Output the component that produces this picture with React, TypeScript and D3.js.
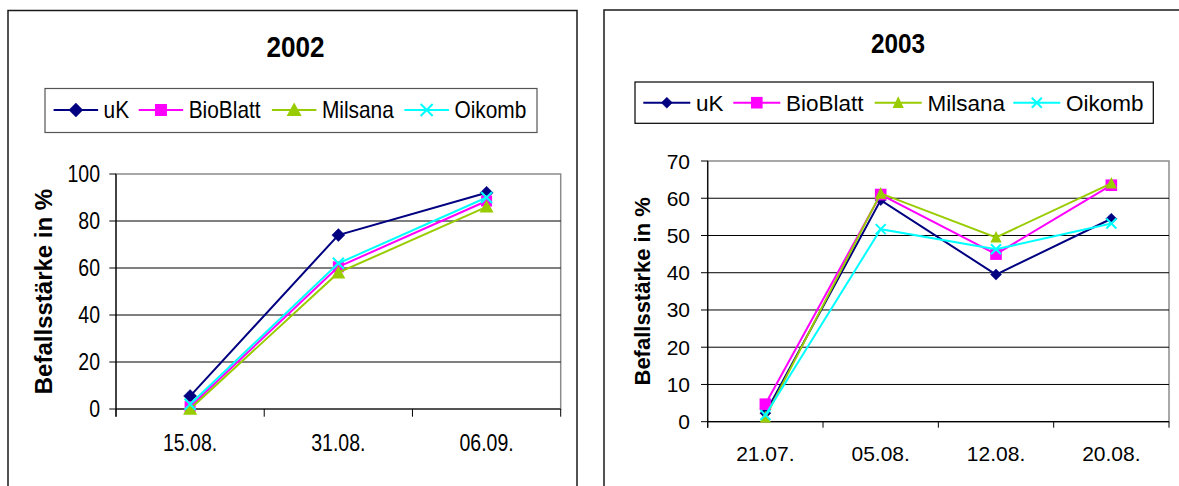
import React from "react";
import * as d3 from "d3";

// ---------- DATA ----------
const seriesNames = ["uK", "BioBlatt", "Milsana", "Oikomb"];
const seriesColors = ["#000080", "#FF00FF", "#99CC00", "#00FFFF"];

const categories2002 = ["15.08.", "31.08.", "06.09."];
const uK2002 = [5.5, 74, 92];
const bioBlatt2002 = [1, 60.5, 88.5];
const milsana2002 = [0, 58, 86];
const oikomb2002 = [2, 62, 90];
const yTicks2002 = [0, 20, 40, 60, 80, 100];

const categories2003 = ["21.07.", "05.08.", "12.08.", "20.08."];
const uK2003 = [2.3, 59.5, 39.5, 54.5];
const bioBlatt2003 = [4.7, 61, 45, 63.5];
const milsana2003 = [1.2, 61.3, 49.5, 64];
const oikomb2003 = [1.8, 51.7, 46.3, 53.2];
const yTicks2003 = [0, 10, 20, 30, 40, 50, 60, 70];

const FONT = "'Liberation Sans', Arial, Helvetica, sans-serif";

type Cfg = {
  title: string;
  categories: string[];
  series: number[][];
  yTicks: number[];
  box: [number, number, number, number];
  titleX: number; titleY: number; titleSize: number; titleSX: number;
  legendBox: [number, number, number, number];
  legendStarts: number[]; legendY: number; legendLine: number; legendTextDx: number;
  legendSize: number; legendSX: number; legendBaseDy: number; legendBorder: string;
  plot: [number, number, number, number];
  tickSize: number; tickSX: number; yLabelGap: number; xLabelY: number;
  yTickLen: number; xTickLen: number;
  axisTitleX: number; axisTitleSize: number;
  mk: { d: number; s: number; t: number; th: number; x: number };
  lmk: { d: number; s: number; t: number; th: number; x: number };
  lineW: number;
};

function Marker({ kind, cx, cy, color, m }: { kind: number; cx: number; cy: number; color: string; m: Cfg["mk"] }) {
  if (kind === 0) {
    const r = m.d;
    return <path d={`M${cx},${cy - r}L${cx + r},${cy}L${cx},${cy + r}L${cx - r},${cy}Z`} fill={color} stroke={color} strokeWidth={0.5} />;
  }
  if (kind === 1) {
    const r = m.s;
    return <rect x={cx - r} y={cy - r} width={2 * r} height={2 * r} fill={color} />;
  }
  if (kind === 2) {
    const r = m.t;
    const h = m.th;
    return <path d={`M${cx},${cy - h * 0.55}L${cx + r},${cy + h * 0.45}L${cx - r},${cy + h * 0.45}Z`} fill={color} />;
  }
  const r = m.x;
  return (
    <path d={`M${cx - r},${cy - r}L${cx + r},${cy + r}M${cx + r},${cy - r}L${cx - r},${cy + r}`} stroke={color} strokeWidth={2} fill="none" />
  );
}

function Chart({ c }: { c: Cfg }) {
  const [pl, pt, pr, pb] = c.plot;
  const x = d3.scaleBand<string>().domain(c.categories).range([pl, pr]).paddingInner(0).paddingOuter(0);
  const yMax = c.yTicks[c.yTicks.length - 1];
  const y = d3.scaleLinear().domain([0, yMax]).range([pb, pt]);
  const cx = (cat: string) => (x(cat) as number) + x.bandwidth() / 2;
  const line = d3
    .line<number>()
    .x((_, i) => cx(c.categories[i]))
    .y((v) => y(v));
  const boundaries = c.categories.map((cat) => x(cat) as number).concat([pr]);
  const [bl, bt, br, bb] = c.box;
  const [lx0, ly0, lx1, ly1] = c.legendBox;
  return (
    <g>
      <rect x={bl} y={bt} width={br - bl} height={bb - bt} fill="#fff" stroke="#1a1a1a" strokeWidth={1.5} />
      <text
        transform={`translate(${c.titleX},${c.titleY}) scale(${c.titleSX},1)`}
        textAnchor="middle"
        fontFamily={FONT}
        fontWeight="bold"
        fontSize={c.titleSize}
      >
        {c.title}
      </text>
      <rect x={lx0} y={ly0} width={lx1 - lx0} height={ly1 - ly0} fill="#fff" stroke={c.legendBorder} strokeWidth={1.2} />
      {seriesNames.map((name, i) => {
        const sx = c.legendStarts[i];
        return (
          <g key={name}>
            <line x1={sx} x2={sx + c.legendLine} y1={c.legendY} y2={c.legendY} stroke={seriesColors[i]} strokeWidth={c.lineW} />
            <Marker kind={i} cx={sx + c.legendLine / 2} cy={c.legendY} color={seriesColors[i]} m={c.lmk} />
            <text
              transform={`translate(${sx + c.legendTextDx},${c.legendY + c.legendBaseDy}) scale(${c.legendSX},1)`}
              fontFamily={FONT}
              fontSize={c.legendSize}
              fill="#000"
            >
              {name}
            </text>
          </g>
        );
      })}
      {/* plot area */}
      <rect x={pl} y={pt} width={pr - pl} height={pb - pt} fill="#fff" stroke="#8c8c8c" strokeWidth={1.5} />
      {c.yTicks.filter((t) => t !== 0 && t !== yMax).map((t) => (
        <line key={t} x1={pl} x2={pr} y1={y(t)} y2={y(t)} stroke="#000" strokeWidth={1} />
      ))}
      {/* axes */}
      <line x1={pl} x2={pl} y1={pt} y2={pb + c.xTickLen} stroke="#000" strokeWidth={1.2} />
      <line x1={pl} x2={pr} y1={pb} y2={pb} stroke="#000" strokeWidth={1.2} />
      {c.yTicks.map((t) => (
        <g key={t}>
          <line x1={pl - c.yTickLen} x2={pl} y1={y(t)} y2={y(t)} stroke="#000" strokeWidth={1} />
          <text
            transform={`translate(${pl - c.yLabelGap},${y(t) + c.tickSize * 0.358}) scale(${c.tickSX},1)`}
            textAnchor="end"
            fontFamily={FONT}
            fontSize={c.tickSize}
          >
            {t}
          </text>
        </g>
      ))}
      {boundaries.map((bx, i) => (
        <line key={i} x1={bx} x2={bx} y1={pb} y2={pb + c.xTickLen} stroke="#000" strokeWidth={1} />
      ))}
      {c.categories.map((cat) => (
        <text
          key={cat}
          transform={`translate(${cx(cat)},${c.xLabelY}) scale(${c.tickSX},1)`}
          textAnchor="middle"
          fontFamily={FONT}
          fontSize={c.tickSize}
        >
          {cat}
        </text>
      ))}
      <text
        transform={`translate(${c.axisTitleX},${(pt + pb) / 2}) rotate(-90)`}
        textAnchor="middle"
        fontFamily={FONT}
        fontWeight="bold"
        fontSize={c.axisTitleSize}
      >
        Befallsstärke in %
      </text>
      {/* series */}
      {c.series.map((vals, si) => (
        <g key={si}>
          <path d={line(vals) || ""} fill="none" stroke={seriesColors[si]} strokeWidth={c.lineW} />
          {vals.map((v, i) => (
            <Marker key={i} kind={si} cx={cx(c.categories[i])} cy={y(v)} color={seriesColors[si]} m={c.mk} />
          ))}
        </g>
      ))}
    </g>
  );
}

const cfg2002: Cfg = {
  title: "2002",
  categories: categories2002,
  series: [uK2002, bioBlatt2002, milsana2002, oikomb2002],
  yTicks: yTicks2002,
  box: [8, 10.5, 577, 495],
  titleX: 295.5, titleY: 57, titleSize: 29, titleSX: 0.9,
  legendBox: [45, 88.5, 537, 132.5],
  legendStarts: [53.6, 138.7, 271.9, 404.4], legendY: 110, legendLine: 44.5, legendTextDx: 50,
  legendSize: 24, legendSX: 0.87, legendBaseDy: 8.3, legendBorder: "#555",
  plot: [116, 174, 560.7, 409],
  tickSize: 23.5, tickSX: 0.83, yLabelGap: 16, xLabelY: 451,
  yTickLen: 6.7, xTickLen: 7.7,
  axisTitleX: 52, axisTitleSize: 24,
  mk: { d: 6.5, s: 5.5, t: 7, th: 12.7, x: 5.5 },
  lmk: { d: 7, s: 6, t: 7.5, th: 13.5, x: 6 },
  lineW: 2,
};

const cfg2003: Cfg = {
  title: "2003",
  categories: categories2003,
  series: [uK2003, bioBlatt2003, milsana2003, oikomb2003],
  yTicks: yTicks2003,
  box: [604, 10, 1185, 495],
  titleX: 898, titleY: 53.3, titleSize: 28, titleSX: 0.87,
  legendBox: [635, 82, 1153.3, 123.3],
  legendStarts: [643.3, 733.3, 874.7, 1013.3], legendY: 102.7, legendLine: 47, legendTextDx: 52.7,
  legendSize: 22.5, legendSX: 1, legendBaseDy: 8, legendBorder: "#000",
  plot: [707.7, 161, 1169, 421.7],
  tickSize: 21, tickSX: 1, yLabelGap: 17.7, xLabelY: 461,
  yTickLen: 6.7, xTickLen: 6,
  axisTitleX: 650, axisTitleSize: 22,
  mk: { d: 5.5, s: 5.8, t: 5.6, th: 11.7, x: 5 },
  lmk: { d: 5.5, s: 5.8, t: 5.6, th: 11.7, x: 5 },
  lineW: 2,
};

export default function App() {
  return (
    <svg
      width={1179}
      height={486}
      viewBox="0 0 1179 486"
      style={{ position: "absolute", left: 0, top: 0, background: "#fff" }}
    >
      <rect x={0} y={0} width={1179} height={486} fill="#fff" />
      <Chart c={cfg2002} />
      <Chart c={cfg2003} />
    </svg>
  );
}
